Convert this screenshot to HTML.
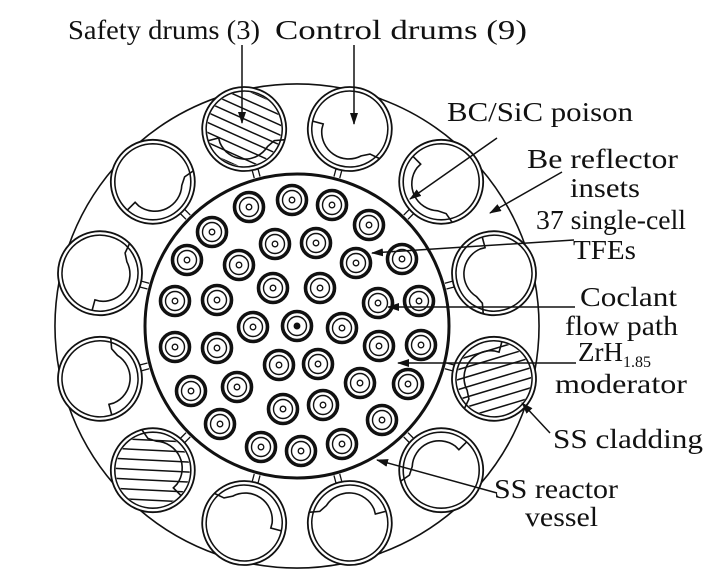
<!DOCTYPE html>
<html><head><meta charset="utf-8"><style>
html,body{margin:0;padding:0;background:#fff;}
svg{display:block;}
text{font-family:"Liberation Serif",serif;font-size:27px;fill:#111;}
</style></head><body>
<svg id="s" width="726" height="588" viewBox="0 0 726 588" xmlns="http://www.w3.org/2000/svg">
<defs>
<marker id="ah" markerWidth="12" markerHeight="8" refX="11" refY="4" orient="auto" markerUnits="userSpaceOnUse">
<path d="M0,0 L12,4 L0,8 Z" fill="#111"/></marker>
</defs>
<g id="g" stroke="#111" fill="none"></g>
<circle cx="297" cy="326" r="152" stroke="#111" stroke-width="3" fill="none"/>
<g id="pins"></g>
<g stroke="#111" stroke-width="1.5" fill="none">
<line x1="242" y1="45" x2="242" y2="123" marker-end="url(#ah)"/>
<line x1="354" y1="45" x2="354" y2="124" marker-end="url(#ah)"/>
<line x1="497" y1="138" x2="410" y2="199" marker-end="url(#ah)"/>
<line x1="562" y1="172" x2="490" y2="213" marker-end="url(#ah)"/>
<line x1="574" y1="240" x2="372" y2="253" marker-end="url(#ah)"/>
<line x1="575" y1="307" x2="388" y2="307" marker-end="url(#ah)"/>
<line x1="576" y1="363" x2="398" y2="363" marker-end="url(#ah)"/>
<line x1="550" y1="433" x2="522" y2="403" marker-end="url(#ah)"/>
<line x1="497" y1="493" x2="377" y2="460" marker-end="url(#ah)"/>
</g>
<g>
<text x="68" y="39" textLength="192" lengthAdjust="spacingAndGlyphs">Safety drums (3)</text>
<text x="275" y="39" textLength="252" lengthAdjust="spacingAndGlyphs">Control drums (9)</text>
<text x="447" y="121" textLength="186" lengthAdjust="spacingAndGlyphs">BC/SiC poison</text>
<text x="527" y="168" textLength="151" lengthAdjust="spacingAndGlyphs">Be reflector</text>
<text x="570" y="197" textLength="70" lengthAdjust="spacingAndGlyphs">insets</text>
<text x="536" y="229" textLength="150" lengthAdjust="spacingAndGlyphs">37 single-cell</text>
<text x="573" y="259" textLength="63" lengthAdjust="spacingAndGlyphs">TFEs</text>
<text x="580" y="306" textLength="97" lengthAdjust="spacingAndGlyphs">Coclant</text>
<text x="565" y="335" textLength="113" lengthAdjust="spacingAndGlyphs">flow path</text>
<text x="578" y="361">ZrH<tspan font-size="16" dy="6">1.85</tspan></text>
<text x="555" y="393" textLength="132" lengthAdjust="spacingAndGlyphs">moderator</text>
<text x="553" y="448" textLength="150" lengthAdjust="spacingAndGlyphs">SS cladding</text>
<text x="494" y="498" textLength="124" lengthAdjust="spacingAndGlyphs">SS reactor</text>
<text x="525" y="526" textLength="73" lengthAdjust="spacingAndGlyphs">vessel</text>
</g>
</svg>
<script>
var NS="http://www.w3.org/2000/svg",g=document.getElementById('g'),pg=document.getElementById('pins');
var cx=297,cy=326;
function el(t,a,p){var e=document.createElementNS(NS,t);for(var k in a)e.setAttribute(k,a[k]);(p||g).appendChild(e);return e;}
var RO=242,RI=222;
for(var k=0;k<12;k++){var c=k*30,a1=(c-11)*Math.PI/180,a2=(c+11)*Math.PI/180;
 var p1=[cx+RO*Math.sin(a1),cy-RO*Math.cos(a1)],p2=[cx+RO*Math.sin(a2),cy-RO*Math.cos(a2)];
 var q1=[cx+RI*Math.sin(a1-0.02),cy-RI*Math.cos(a1-0.02)],q2=[cx+RI*Math.sin(a2+0.02),cy-RI*Math.cos(a2+0.02)];
 el('path',{d:'M'+q1+' L'+p1+' A'+RO+' '+RO+' 0 0 1 '+p2+' L'+q2,'stroke-width':1.6});}
var R=204,hatched={11:0.45,3:-0.3,7:0.05};
for(var k=0;k<12;k++){var th=15+30*k,t=th*Math.PI/180;
 var x=cx+R*Math.sin(t),y=cy-R*Math.cos(t);
 var tr='translate('+x.toFixed(1)+','+y.toFixed(1)+')';
 var gr=el('g',{transform:tr+' rotate('+th+')'});
 el('circle',{r:42,fill:'#fff','stroke-width':1.8},gr);
 el('circle',{r:38,'stroke-width':1.6},gr);
 if(k in hatched){var s=hatched[k];var cid='c'+k;var cp=el('clipPath',{id:cid},g);el('circle',{cx:x,cy:y,r:37},cp);
  var hg=el('g',{'clip-path':'url(#'+cid+')'},g);
  for(var i=-50;i<=50;i+=10)el('line',{x1:x-45,y1:y+i-45*s,x2:x+45,y2:y+i+45*s,'stroke-width':1.5},hg);}
 var gr2=el('g',{transform:tr+' rotate('+th+')'});
 el('path',{d:'M-38,2 H-27 V7 A27 27 0 0 0 18,23 L26,19 L37,21','stroke-width':1.6,fill:'none'},gr2);
 el('path',{d:'M-3,42 V50 M3,42 V50','stroke-width':1.3},gr2);
}
var pins=[[249,207],[292,200],[332,205],[212,232],[369,225],[275,244],[316,243],[187,260],[239,265],[356,263],[402,259],[273,288],[320,288],[175,301],[217,300],[378,303],[419,301],[253,327],[297,326],[342,328],[175,347],[217,348],[379,346],[421,345],[279,365],[318,364],[191,391],[237,387],[360,383],[408,384],[283,409],[323,405],[220,424],[382,420],[261,447],[301,451],[342,444]];
pins.forEach(function(p,i){
 el('circle',{cx:p[0],cy:p[1],r:14.5,stroke:'#111','stroke-width':3.6,fill:'#fff'},pg);
 el('circle',{cx:p[0],cy:p[1],r:9.5,stroke:'#111','stroke-width':1.4,fill:'none'},pg);
 el('circle',{cx:p[0],cy:p[1],r:2.8,stroke:'#111','stroke-width':1.3,fill:(i==18?'#111':'#fff')},pg);
});
</script>
</body></html>
